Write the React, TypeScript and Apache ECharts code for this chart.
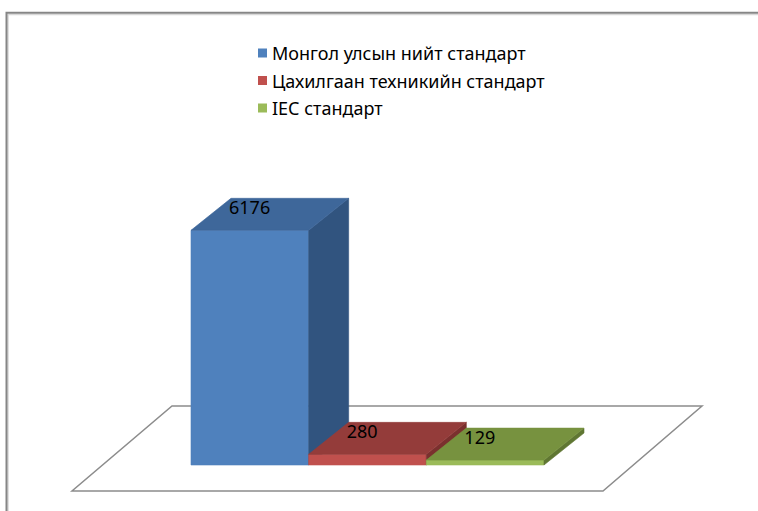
import React, { useEffect, useRef } from "react";
import * as echarts from "echarts";

const categories = ["Монгол улсын нийт стандарт", "Цахилгаан техникийн стандарт", "IEC стандарт"];
const values = [6176, 280, 129];
const frontColors = ["#4f81bd", "#c0504d", "#9bbb59"];
const topColors = ["#3e679a", "#943c3a", "#77923f"];
const sideColors = ["#31547f", "#7a302e", "#5f7632"];

const DX = 40;
const DY = -32;

export default function App() {
  const ref = useRef<HTMLDivElement>(null);
  useEffect(() => {
    if (!ref.current) return;
    const chart = echarts.init(ref.current, undefined, { renderer: "svg" });
    const series = categories.map((name, i) => ({
      type: "custom",
      name,
      color: frontColors[i],
      data: [[i, values[i]]],
      renderItem: (params: any, api: any) => {
        const top = api.coord([api.value(0), api.value(1)]);
        const base = api.coord([api.value(0), 0]);
        const w = api.size([1, 0])[0];
        const l = top[0] - w / 2;
        const r = top[0] + w / 2;
        const t = top[1];
        const b = base[1];
        return {
          type: "group",
          children: [
            {
              type: "polygon",
              shape: { points: [[l, t], [r, t], [r, b], [l, b]] },
              style: { fill: frontColors[i], stroke: frontColors[i], lineWidth: 0.6 },
            },
            {
              type: "polygon",
              shape: { points: [[r, t], [r + DX, t + DY], [r + DX, b + DY], [r, b]] },
              style: { fill: sideColors[i], stroke: sideColors[i], lineWidth: 0.6 },
            },
            {
              type: "polygon",
              shape: { points: [[l, t], [r, t], [r + DX, t + DY], [l + DX, t + DY]] },
              style: { fill: topColors[i], stroke: topColors[i], lineWidth: 0.6 },
            },
            {
              type: "text",
              x: l + DX - 2,
              y: t + DY,
              style: {
                text: String(api.value(1)),
                fill: "#000",
                font: '18px "Noto Sans"',
                textAlign: "left",
                textVerticalAlign: "top",
              },
            },
          ],
        };
      },
    }));
    chart.setOption({
      animation: false,
      backgroundColor: "#ffffff",
      grid: { left: 191, right: 214, top: 199, bottom: 46 },
      xAxis: { type: "category", data: categories, show: false },
      yAxis: { type: "value", min: 0, max: 7000, show: false },
      legend: {
        orient: "vertical",
        left: 253,
        top: 38,
        icon: "rect",
        itemWidth: 9,
        itemHeight: 9,
        itemGap: 7.5,
        data: categories,
        textStyle: { fontFamily: "Noto Sans", fontSize: 18, color: "#000", lineHeight: 20 },
      },
      graphic: [
        {
          type: "polygon",
          z: -10,
          shape: { points: [[172, 406], [702, 406], [603, 491], [72, 491]] },
          style: { fill: "#ffffff", stroke: "#8c8c8c", lineWidth: 1.5 },
        },
        {
          type: "polyline",
          shape: { points: [[8, 511], [8, 14.5], [758, 14.5]] },
          style: { stroke: "#d8d8d8", lineWidth: 1.5, fill: "none" },
        },
        {
          type: "polyline",
          shape: { points: [[6.5, 511], [6.5, 12.8], [758, 12.8]] },
          style: { stroke: "#868686", lineWidth: 2, fill: "none" },
        },
      ],
      series,
    });
    return () => chart.dispose();
  }, []);
  return <div ref={ref} style={{ position: "fixed", left: 0, top: 0, width: 758, height: 511 }} />;
}
